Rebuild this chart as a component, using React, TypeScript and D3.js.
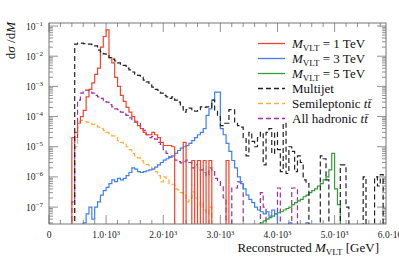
import React from 'react';
import * as d3 from 'd3';

const W = 399;
const H = 259;
const BIN = 50;

// differential cross sections, 50 GeV bins; each series starts at its own first bin edge
const redStart = 400;
const redValues = [
  2e-5, 3e-5, 6e-5, 1e-4, 1.6e-4, 4.5e-4, 8e-4, 1.3e-3, 2.5e-3, 4e-3, 2e-2, 4.5e-2, 7.5e-2,
  9e-3, 6e-3, 2e-3, 1e-3, 5e-4, 3.2e-4, 2e-4, 1.4e-4, 1e-4, 7e-5, 5e-5, 4e-5, 3e-5, 2.5e-5,
  2.5e-5, 3e-5, 2.5e-5, 2e-5, 1.4e-5, 1.1e-5, 1.1e-5, 1.1e-5, 1e-5, 0, 0, 0, 1.4e-5, 0, 0,
  3.5e-6, 0, 3.5e-6, 0, 3.5e-6, 0, 3.5e-6, 0, 0, 0, 0, 0, 3.5e-6,
];

const blueStart = 600;
const blueValues = [
  3e-8, 6e-8, 1e-7, 4e-8, 1e-7, 1.5e-7, 2.5e-7, 3.5e-7, 4.5e-7, 6e-7, 8e-7, 7e-7, 9e-7, 8e-7,
  9e-7, 1.1e-6, 1.4e-6, 2e-6, 1.8e-6, 1.5e-6, 1.4e-6, 1.5e-6, 1.6e-6, 1.7e-6, 1.8e-6, 2.1e-6,
  2.5e-6, 3e-6, 3.6e-6, 4e-6, 4.5e-6, 5e-6, 6e-6, 7.5e-6, 9e-6, 1e-5, 1.1e-5, 1.3e-5, 1.6e-5,
  2e-5, 2.5e-5, 3e-5, 4e-5, 1.1e-4, 1.8e-4, 3.5e-4, 6.5e-4, 6.5e-4, 4e-5, 2.5e-5, 1.3e-5,
  7e-6, 3.5e-6, 2e-6, 1e-6, 6e-7, 4e-7, 2.5e-7, 1.8e-7, 1.4e-7, 1e-7, 8e-8, 7e-8, 6e-8, 7e-8,
  5e-8, 8e-8, 6e-8, 0, 0, 0, 0, 3e-8, 0, 0, 0, 0, 0, 3e-8,
];

const greenStart = 3700;
const greenValues = [
  3e-8, 3.5e-8, 4e-8, 4.5e-8, 5e-8, 6e-8, 6.5e-8, 7e-8, 8e-8, 9e-8, 1e-7, 1.2e-7, 1.4e-7,
  1.6e-7, 1.8e-7, 2.2e-7, 2.5e-7, 3e-7, 3.5e-7, 4e-7, 5e-7, 6e-7, 8e-7, 1e-6, 1.7e-6, 6e-6,
  4e-7, 1.2e-7,
];

const multijetStart = 450;
const multijetValues = [
  2.5e-2, 2.7e-2, 2.7e-2, 2.6e-2, 2.5e-2, 2.5e-2, 2.3e-2, 2.2e-2, 1.6e-2, 1.4e-2, 1.2e-2,
  1.1e-2, 9e-3, 8e-3, 7e-3, 6e-3, 5.5e-3, 5e-3, 4e-3, 3.5e-3, 3e-3, 2.5e-3, 2.3e-3, 2e-3,
  1.6e-3, 1.4e-3, 1.1e-3, 9.5e-4, 8e-4, 7.5e-4, 6e-4, 5e-4, 4.5e-4, 4e-4, 4.5e-4, 3.5e-4,
  3e-4, 2.1e-4, 1.4e-4, 1.7e-4, 1.9e-4, 1.7e-4, 1.5e-4, 1.7e-4, 2.1e-4, 2e-4, 2.1e-4, 2e-4,
  3.5e-4, 1.5e-4, 1e-4, 5e-5, 6e-5, 6e-5, 1.7e-4, 1.7e-4, 6e-5, 5e-5, 4.5e-5, 2e-5, 5e-6,
  3e-5, 1.5e-5, 1e-5, 2e-5, 3e-5, 2.5e-6, 3e-5, 4e-5, 6e-6, 3e-5, 8e-6, 1.5e-6, 6e-5, 1.3e-6,
  1e-5, 7e-6, 1.5e-6, 5e-6, 3e-6, 8e-7, 6e-7, 0, 0, 0, 0, 5e-6, 4e-6, 8e-7, 0, 0, 0, 0,
  2.5e-6, 2.5e-6, 1e-7, 0, 0, 0, 0, 0, 1e-6, 0, 0, 0, 1e-6, 5e-7, 1.2e-6,
];

const semilepStart = 450;
const semilepValues = [
  1e-5, 7e-5, 7.5e-5, 7e-5, 6.5e-5, 6e-5, 5.5e-5, 5e-5, 4.5e-5, 4e-5, 3.5e-5, 3e-5, 2.7e-5,
  2.3e-5, 2e-5, 1.6e-5, 1.4e-5, 1.2e-5, 1e-5, 8e-6, 6e-6, 5e-6, 4.3e-6, 3.5e-6, 2.9e-6,
  2.6e-6, 2.1e-6, 1.8e-6, 1.5e-6, 1.1e-6, 6.8e-7, 1e-6, 9e-7, 6e-7, 5.5e-7, 4e-7, 3.7e-7,
  3e-7, 2.5e-7, 1.5e-7, 2e-7, 3.2e-7, 2e-7, 1e-7, 1.5e-7, 8e-8, 6e-8, 1e-7,
];

const hadronicStart = 400;
const hadronicValues = [
  1.5e-7, 2e-5, 3.5e-4, 6e-4, 7.5e-4, 7.5e-4, 6.5e-4, 6e-4, 5e-4, 4.5e-4, 4e-4, 3.4e-4, 3e-4,
  2.5e-4, 2.1e-4, 1.8e-4, 1.7e-4, 1.4e-4, 1.2e-4, 1.1e-4, 9e-5, 7.5e-5, 6.5e-5, 6e-5, 4e-5,
  3.5e-5, 2.5e-5, 2e-5, 2.2e-5, 1.8e-5, 1.4e-5, 1.2e-5, 8e-6, 6e-6, 4.5e-6, 4e-6, 3.6e-6,
  3.2e-6, 2.9e-6, 3.2e-6, 3.6e-6, 3e-6, 2e-6, 2.5e-6, 2e-6, 1.7e-6, 1.4e-6, 1.1e-6, 2e-6,
  1.5e-6, 9e-7, 7e-7, 4.7e-7, 2e-7, 0, 0, 4.3e-7, 4.3e-7, 6.8e-7, 6.8e-7, 0, 0, 0, 0, 0, 0,
  3e-7, 1e-7, 0, 0, 0, 0, 4.3e-7, 0, 0, 0, 0, 4.3e-7, 4.3e-7,
];

const xTicks = [0, 1000, 2000, 3000, 4000, 5000, 6000];
const xTickLabels = ['0', '1.0', '2.0', '3.0', '4.0', '5.0', '6.0'];
const yExponents = [-1, -2, -3, -4, -5, -6, -7];

const legendEntries = [
  { key: 'red', label: '1 TeV' },
  { key: 'blue', label: '3 TeV' },
  { key: 'green', label: '5 TeV' },
  { key: 'multijet', label: 'Multijet' },
  { key: 'semilep', label: 'Semileptonic' },
  { key: 'hadronic', label: 'All hadronic' },
];

const styles: Record<string, { color: string; dash?: string }> = {
  red: { color: '#f0442c' },
  blue: { color: '#3d7ef2' },
  green: { color: '#2f9e36' },
  multijet: { color: '#222222', dash: '5,3' },
  semilep: { color: '#ffae3a', dash: '5,3' },
  hadronic: { color: '#9a2f9e', dash: '5,3' },
};

const series = [
  { key: 'semilep', start: semilepStart, values: semilepValues },
  { key: 'hadronic', start: hadronicStart, values: hadronicValues },
  { key: 'green', start: greenStart, values: greenValues },
  { key: 'blue', start: blueStart, values: blueValues },
  { key: 'red', start: redStart, values: redValues },
  { key: 'multijet', start: multijetStart, values: multijetValues },
];

const left = 49;
const right = 386;
const top = 23;
const bottom = 224;

export default function App() {
  const x = d3.scaleLinear().domain([0, 5900]).range([left, right]);
  const y = d3.scaleLog().domain([Math.pow(10, -7.56), Math.pow(10, -0.9)]).range([bottom, top]);
  const yOf = (v: number) => (v > 0 ? y(v) : bottom + 5);

  const line = d3.line<[number, number]>();
  const stepPath = (start: number, values: number[]) => {
    const pts: [number, number][] = [[x(start), bottom + 5]];
    values.forEach((v, i) => {
      const x0 = x(start + i * BIN);
      const x1 = x(start + (i + 1) * BIN);
      pts.push([x0, yOf(v)], [x1, yOf(v)]);
    });
    pts.push([x(start + values.length * BIN), bottom + 5]);
    return line(pts) || '';
  };

  const minorX = d3.range(0, 5901, 200).filter((v) => v % 1000 !== 0);
  const minorY: number[] = [];
  for (let e = -8; e <= -1; e++) {
    for (let k = 2; k <= 9; k++) {
      const v = k * Math.pow(10, e);
      if (y(v) >= top && y(v) <= bottom) minorY.push(v);
    }
  }

  const tickColor = '#777';
  const serif = '"Liberation Serif", "DejaVu Serif", serif';

  return (
    <svg width={W} height={H} style={{ position: 'absolute', left: 0, top: 0, background: '#fff' }} fontFamily={serif}>
      <defs>
        <clipPath id="plot">
          <rect x={left} y={top} width={right - left} height={bottom - top} />
        </clipPath>
      </defs>

      {/* ticks */}
      <g stroke={tickColor} strokeWidth={0.8}>
        {xTicks.filter((t) => x(t) <= right).map((t) => (
          <g key={'xt' + t}>
            <line x1={x(t)} x2={x(t)} y1={bottom} y2={bottom - 9} />
            <line x1={x(t)} x2={x(t)} y1={top} y2={top + 9} />
          </g>
        ))}
        {minorX.map((t) => (
          <g key={'xm' + t}>
            <line x1={x(t)} x2={x(t)} y1={bottom} y2={bottom - 4} />
            <line x1={x(t)} x2={x(t)} y1={top} y2={top + 4} />
          </g>
        ))}
        {yExponents.map((e) => (
          <g key={'yt' + e}>
            <line x1={left} x2={left + 9} y1={y(Math.pow(10, e))} y2={y(Math.pow(10, e))} />
            <line x1={right} x2={right - 9} y1={y(Math.pow(10, e))} y2={y(Math.pow(10, e))} />
          </g>
        ))}
        {minorY.map((v, i) => (
          <g key={'ym' + i}>
            <line x1={left} x2={left + 4} y1={y(v)} y2={y(v)} />
            <line x1={right} x2={right - 4} y1={y(v)} y2={y(v)} />
          </g>
        ))}
      </g>

      {/* histograms */}
      <g clipPath="url(#plot)" fill="none">
        {series.map((s) => (
          <path
            key={s.key}
            d={stepPath(s.start, s.values)}
            stroke={styles[s.key].color}
            strokeWidth={1.2}
            strokeDasharray={styles[s.key].dash}
          />
        ))}
      </g>

      <rect x={left} y={top} width={right - left} height={bottom - top} fill="none" stroke="#666" strokeWidth={0.9} />

      {/* y tick labels */}
      <g fontSize={9.5} fill="#222" textAnchor="end">
        {yExponents.map((e) => (
          <text key={'yl' + e} x={43} y={y(Math.pow(10, e)) + 3.5}>
            10<tspan fontSize={7} dy={-4}>{'\u2212' + -e}</tspan>
          </text>
        ))}
      </g>

      {/* x tick labels; the last one runs off the page edge as in the original */}
      <g fontSize={9.5} fill="#222" textAnchor="middle">
        {xTicks.map((t, i) => (
          <text key={'xl' + t} x={x(t)} y={238}>
            {t === 0 ? '0' : (
              <>
                {xTickLabels[i] + '\u00b710'}
                <tspan fontSize={6.5} dy={-3.5}>3</tspan>
              </>
            )}
          </text>
        ))}
      </g>

      {/* axis labels */}
      <text x={379} y={252} fontSize={13} textAnchor="end" fill="#111">
        Reconstructed <tspan fontStyle="italic">M</tspan>
        <tspan fontSize={9} dy={2.5}>VLT</tspan>
        <tspan dy={-2.5}> [GeV]</tspan>
      </text>
      <text transform="translate(15,22) rotate(-90)" fontSize={13} textAnchor="end" fill="#111">
        d<tspan fontStyle="italic">σ</tspan> /d<tspan fontStyle="italic">M</tspan>
      </text>

      {/* legend */}
      <g fontSize={13} fill="#111">
        {legendEntries.map((e, i) => {
          const ry = 43.5 + i * 15;
          const st = styles[e.key];
          const isSignal = i < 3;
          return (
            <g key={e.key}>
              <line x1={258} x2={285} y1={ry} y2={ry} stroke={st.color} strokeWidth={1.3} strokeDasharray={st.dash} />
              <text x={292} y={ry + 4.5}>
                {isSignal ? (
                  <>
                    <tspan fontStyle="italic">M</tspan>
                    <tspan fontSize={9} dy={2.5}>VLT</tspan>
                    <tspan dy={-2.5}>{' = ' + e.label}</tspan>
                  </>
                ) : e.key === 'multijet' ? (
                  e.label
                ) : (
                  <>
                    {e.label + ' '}
                    <tspan fontStyle="italic">{'tt\u0304'}</tspan>
                  </>
                )}
              </text>
            </g>
          );
        })}
      </g>
    </svg>
  );
}
